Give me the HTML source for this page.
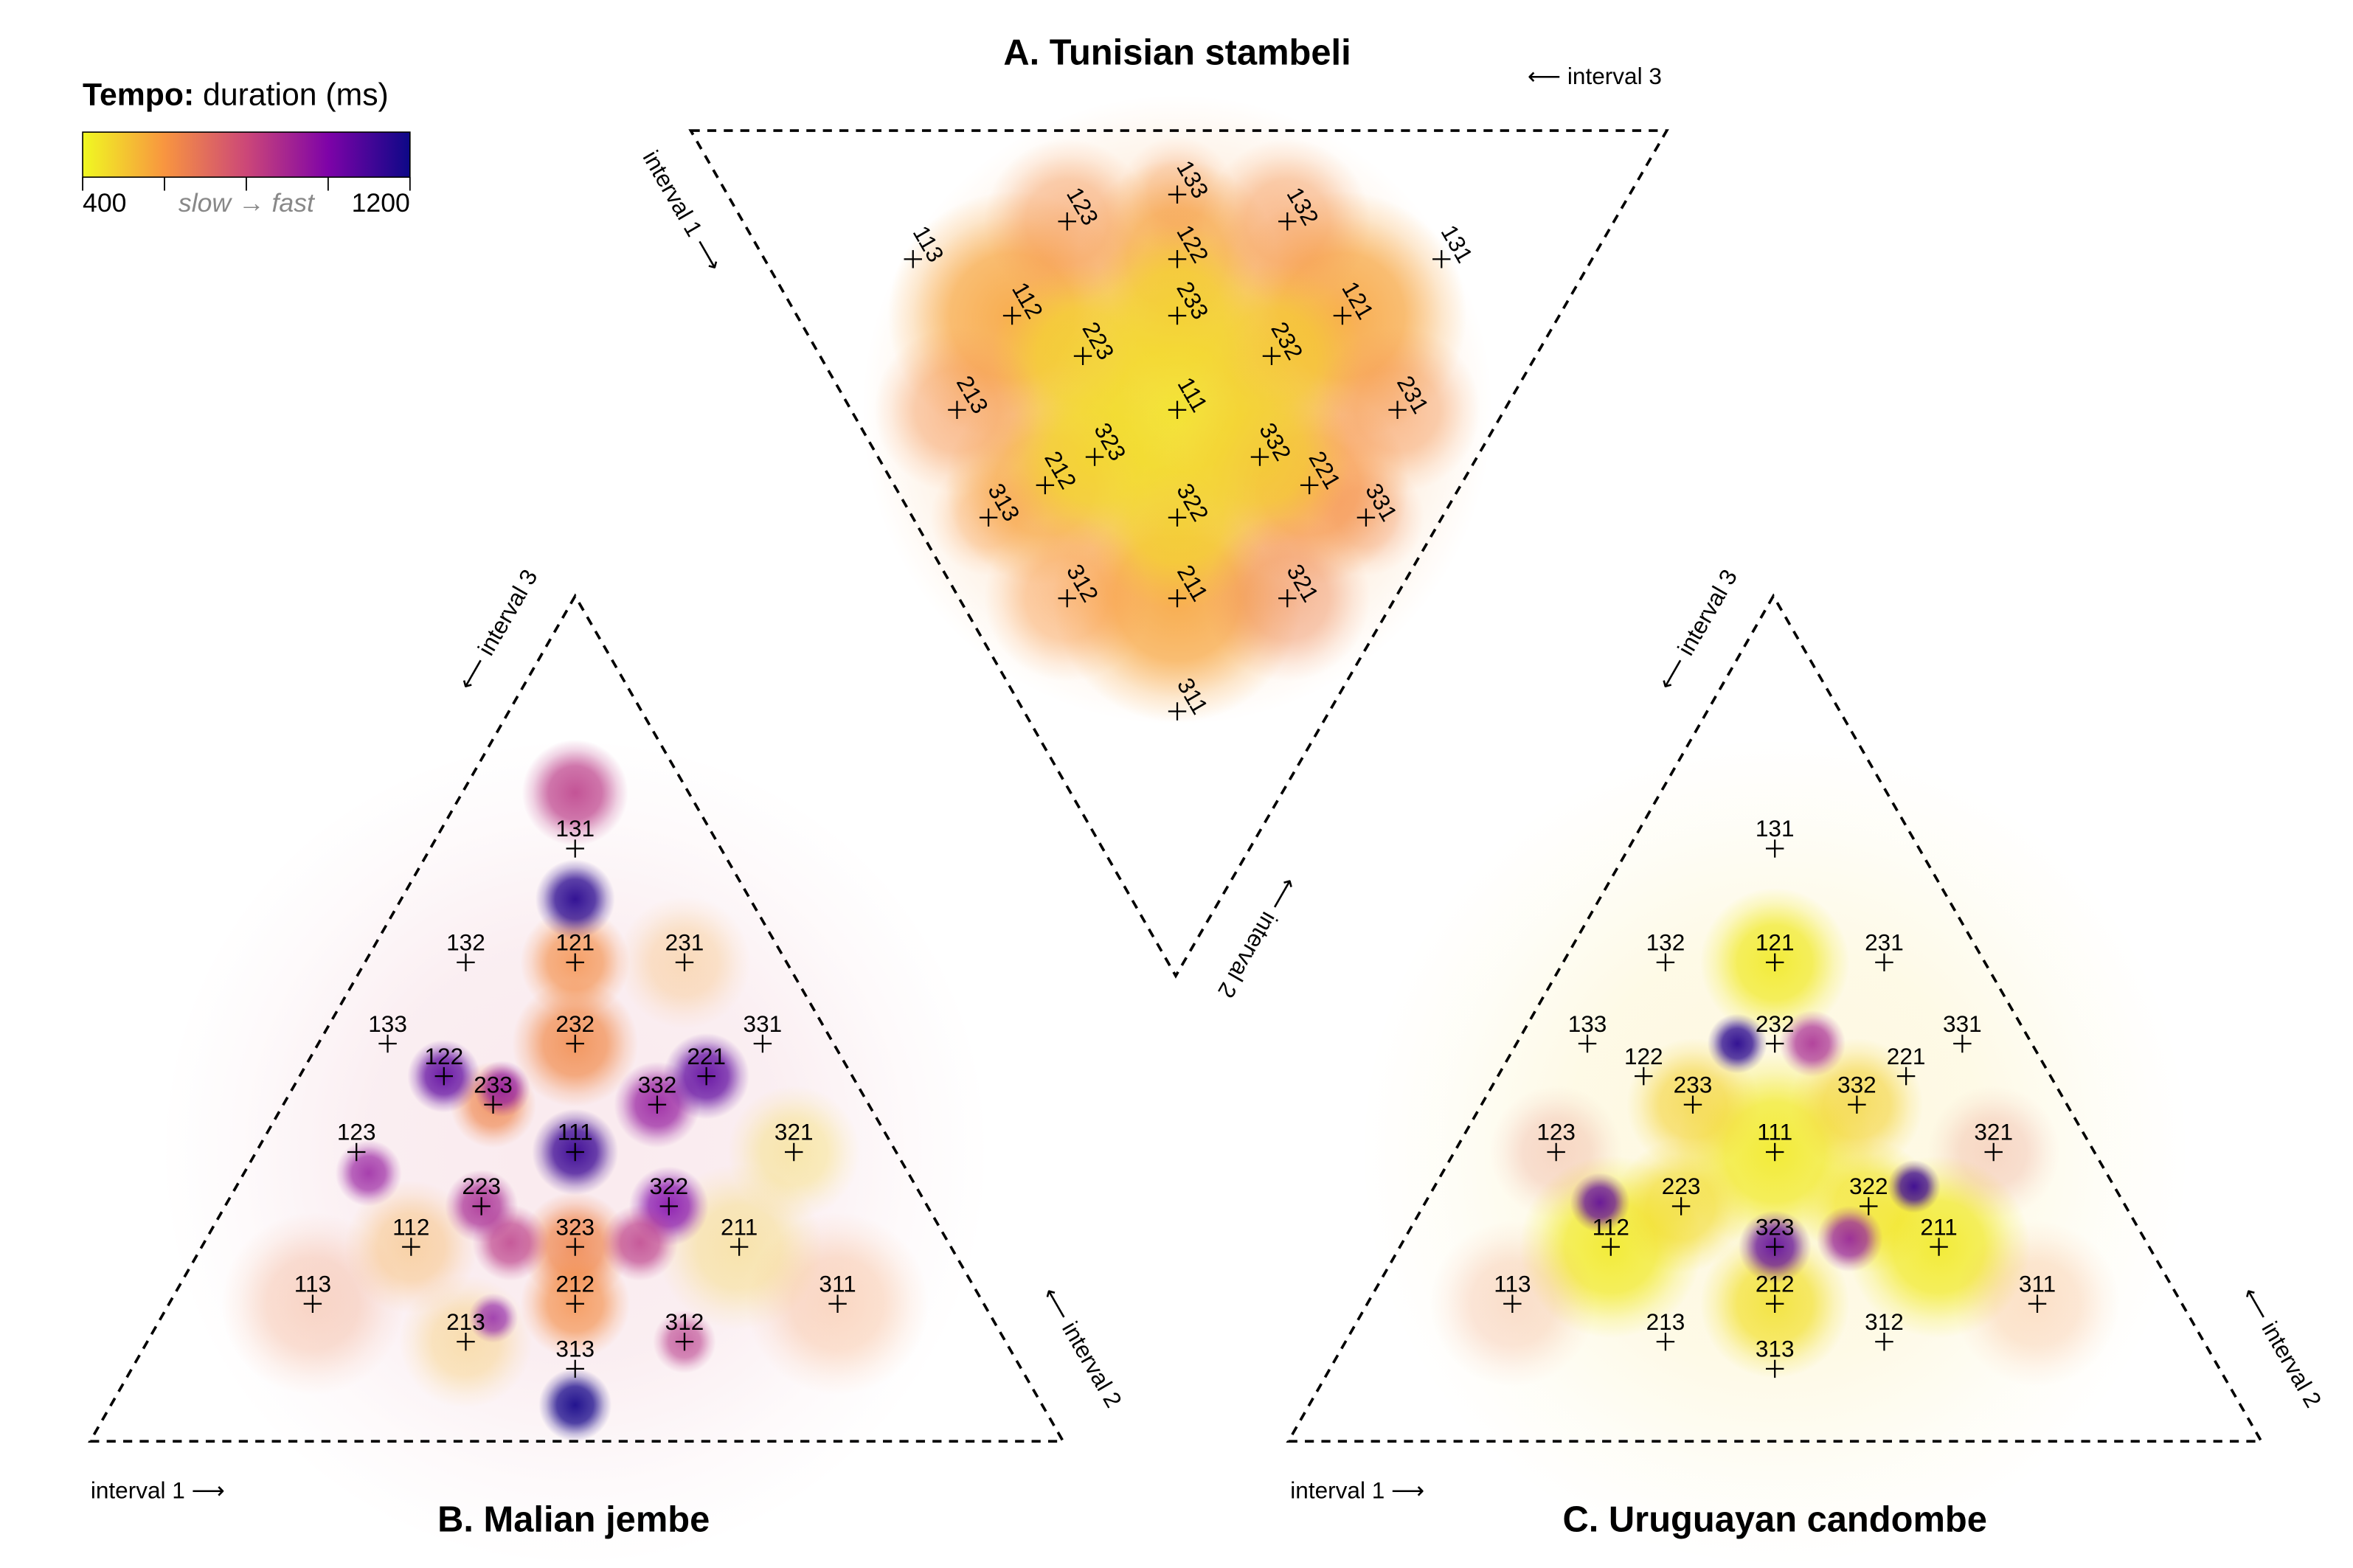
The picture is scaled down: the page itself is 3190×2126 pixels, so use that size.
<!DOCTYPE html>
<html><head><meta charset="utf-8">
<style>
html,body{margin:0;padding:0;background:#fff;overflow:hidden;width:3190px;height:2126px;}
svg{display:block;font-family:"Liberation Sans",Arial,sans-serif;}
</style></head>
<body>
<svg id="chart" xmlns="http://www.w3.org/2000/svg" width="3190" height="2126" viewBox="0 0 1567 1044.4">
<defs>
<linearGradient id="legendGrad" x1="0" x2="1" y1="0" y2="0">
<stop offset="0" stop-color="#f0f921"/><stop offset="0.25" stop-color="#f89540"/><stop offset="0.5" stop-color="#cc4778"/><stop offset="0.75" stop-color="#7e03a8"/><stop offset="1" stop-color="#0d0887"/>
</linearGradient>
</defs>
<rect width="1567" height="1044.4" fill="#fff"/>
<g id="layers"></g>
<g>
<text x="55" y="70" font-size="21"><tspan font-weight="bold">Tempo:</tspan> duration (ms)</text>
<rect x="55" y="88" width="218" height="30" fill="url(#legendGrad)" stroke="#000" stroke-width="0.8"/>
<g stroke="#000" stroke-width="0.9">
<line x1="55" x2="55" y1="118" y2="127"/><line x1="109.5" x2="109.5" y1="118" y2="127"/><line x1="164" x2="164" y1="118" y2="127"/><line x1="218.5" x2="218.5" y1="118" y2="127"/><line x1="273" x2="273" y1="118" y2="127"/>
</g>
<text x="55" y="141" font-size="17.5">400</text>
<text x="164" y="141" font-size="17.5" font-style="italic" fill="#888" text-anchor="middle">slow → fast</text>
<text x="273" y="141" font-size="17.5" text-anchor="end">1200</text>
</g>
<text x="784" y="43" font-size="24" font-weight="bold" text-anchor="middle">A. Tunisian stambeli</text>
<text x="382" y="1020" font-size="24" font-weight="bold" text-anchor="middle">B. Malian jembe</text>
<text x="1182" y="1020" font-size="24" font-weight="bold" text-anchor="middle">C. Uruguayan candombe</text>
<g font-size="15.5">
<text x="1062" y="56" text-anchor="middle">⟵ interval 3</text>
<text x="450" y="143" text-anchor="middle" transform="rotate(60 450 143)">interval 1 ⟶</text>
<text x="833" y="622" text-anchor="middle" transform="rotate(120 833 622)">⟵ interval 2</text>
<text x="105" y="998" text-anchor="middle">interval 1 ⟶</text>
<text x="336" y="422" text-anchor="middle" transform="rotate(-60 336 422)">⟵ interval 3</text>
<text x="716" y="900" text-anchor="middle" transform="rotate(60 716 900)">⟵ interval 2</text>
<text x="904" y="998" text-anchor="middle">interval 1 ⟶</text>
<text x="1135" y="422" text-anchor="middle" transform="rotate(-60 1135 422)">⟵ interval 3</text>
<text x="1515" y="900" text-anchor="middle" transform="rotate(60 1515 900)">⟵ interval 2</text>
</g>
</svg>
<script>
// ---- data ----
const categoryLabels = ['111','112','121','211','122','212','221','113','131','311','123','132','213','231','312','321','133','313','331','223','232','322','233','323','332'];
// Panel A (Tunisian stambeli) density clusters: interval ratios [i1,i2,i3], median duration (ms), spread, density
const aRatios = [[1,1,1],[2,2,3],[2,3,2],[3,2,2],[2,3,3],[3,2,3],[3,3,2],[1,1,2],[1,2,1],[2,1,1],[1,2,2],[2,1,2],[2,2,1],[1,2,3],[1,3,2],[2,1,3],[2,3,1],[3,1,2],[3,2,1],[1,1,1],[3,3,1],[1,3,3],[3,1,3]];
const aTempo  = [440,470,490,470,470,460,480,570,570,570,560,560,600,620,620,620,620,600,650,590,640,620,600];
const aSpread = [0.075,0.055,0.055,0.055,0.055,0.055,0.055,0.075,0.075,0.075,0.06,0.06,0.06,0.05,0.05,0.05,0.05,0.05,0.05,0.19,0.035,0.035,0.035];
const aDensity= [0.9,0.8,0.8,0.8,0.8,0.8,0.8,0.85,0.85,0.85,0.75,0.75,0.75,0.5,0.5,0.5,0.5,0.5,0.5,0.45,0.35,0.35,0.35];
// Panel B (Malian jembe)
const bRatios = [[1,1,1],[1,3.7,1],[1,2.5,1],[1,2,1],[2,3,2],[3,2,3],[2,1,2],[4,1,4],[1,2,2],[2,3,3],[1.8,2.8,2.6],[3,3,2],[2,2,1],[2,2,3],[3,2,2],[1,1.7,2.7],[2.3,1.8,3],[3,1.8,2.3],[3,1,2],[2.2,1.2,3],[2,1,1],[3,2,1],[3,1,1],[1,1,3],[1,1,2],[2,1,3],[1,1,1],[2,3,1]];
const bTempo  = [1120,850,1150,620,630,640,620,1180,1060,640,980,950,1060,900,1000,950,850,850,860,1000,480,470,620,650,560,520,780,560];
const bSpread = [0.026,0.032,0.024,0.033,0.038,0.033,0.033,0.022,0.022,0.026,0.017,0.026,0.026,0.022,0.024,0.02,0.023,0.023,0.019,0.015,0.05,0.04,0.055,0.055,0.04,0.04,0.25,0.04];
const bDensity= [0.95,0.85,0.95,0.8,0.85,0.85,0.8,0.95,0.9,0.8,0.8,0.85,0.9,0.85,0.85,0.8,0.8,0.8,0.7,0.7,0.35,0.35,0.3,0.3,0.4,0.35,0.12,0.3];
// Panel C (Uruguayan candombe)
const cRatios = [[1,1,1],[1,2,1],[1.8,3,2.2],[2.2,3,1.8],[1,1,2],[1,1.3,2.2],[3,2,3],[3,1.8,2.2],[3,2,2],[3,2,1.6],[2,1,1],[2,1,2],[2,2,3],[3,3,2],[2,3,3],[1,1,1],[1,1,3],[3,1,1],[1,2,3],[3,2,1]];
const cTempo  = [430,430,1150,900,430,1060,1060,960,440,1120,430,450,460,480,480,480,650,620,700,700];
const cSpread = [0.06,0.045,0.018,0.02,0.055,0.018,0.022,0.02,0.04,0.016,0.055,0.045,0.04,0.04,0.04,0.25,0.05,0.05,0.04,0.04];
const cDensity= [0.9,0.9,0.95,0.85,0.9,0.9,0.9,0.85,0.8,0.95,0.9,0.85,0.75,0.7,0.7,0.15,0.25,0.25,0.25,0.25];

// ---- helpers ----
const NS='http://www.w3.org/2000/svg';
const layers=document.getElementById('layers');
const defs=document.querySelector('defs');
const stops=[[0,[13,8,135]],[0.25,[126,3,168]],[0.5,[204,71,120]],[0.75,[248,149,64]],[1,[240,249,33]]];
function tempoColor(v){
  let t=1-(v-400)/800; t=Math.max(0,Math.min(1,t));
  for(let i=0;i<stops.length-1;i++){
    const [t0,c0]=stops[i],[t1,c1]=stops[i+1];
    if(t<=t1){const f=(t-t0)/(t1-t0);return 'rgb('+c0.map((c,k)=>Math.round(c+(c1[k]-c)*f)).join(',')+')';}
  }
  return 'rgb(240,249,33)';
}
function mk(tag,attrs,parent){const e=document.createElementNS(NS,tag);for(const k in attrs)e.setAttribute(k,attrs[k]);(parent||layers).appendChild(e);return e;}
function makeTernary(V){
  return function(r){const s=r[0]+r[1]+r[2];const f=[r[0]/s,r[1]/s,r[2]/s];
    return [f[0]*V[0][0]+f[1]*V[1][0]+f[2]*V[2][0], f[0]*V[0][1]+f[1]*V[1][1]+f[2]*V[2][1]];};
}
const SCALE=762;
let gid=0;
function drawPanel(key,V,ratios,tempo,spread,density,tri,rotLabels){
  const pos=makeTernary(V);
  const g=mk('g',{});
  
  
  const cl=mk('g',{},g);
  
  
  const order=ratios.map((r,i)=>i).sort((a,b)=>spread[b]-spread[a]);
  order.forEach(i=>{
    const p=pos(ratios[i]);const r=spread[i]*SCALE*1.45;const col=tempoColor(tempo[i]);
    const id='cg'+(gid++);
    const rg=mk('radialGradient',{id:id},defs);
    mk('stop',{offset:'0','stop-color':col,'stop-opacity':density[i]},rg);
    mk('stop',{offset:'0.5','stop-color':col,'stop-opacity':density[i]*0.8},rg);
    mk('stop',{offset:'0.8','stop-color':col,'stop-opacity':density[i]*0.25},rg);
    mk('stop',{offset:'1','stop-color':col,'stop-opacity':0},rg);
    const e=mk('circle',{cx:p[0].toFixed(1),cy:p[1].toFixed(1),r:r.toFixed(1),fill:'url(#'+id+')'},cl);
    
    
  });
  const t=mk('polygon',{points:tri.map(p=>p.join(',')).join(' '),fill:'none',stroke:'#000','stroke-width':1.8,'stroke-dasharray':'6,5'},g);
  
  
  const lg=mk('g',{},g);
  
  
  categoryLabels.forEach(c=>{
    const r=c.split('').map(Number);const p=pos(r);
    const m=mk('path',{d:'M'+(p[0]-6)+' '+p[1]+'h12M'+p[0]+' '+(p[1]-6)+'v12',stroke:'#000','stroke-width':1.1},lg);
    
    
    let tx;
    if(rotLabels){const x=p[0]+10,y=p[1]-10;tx=mk('text',{x:x,y:y+5,'font-size':15.5,'text-anchor':'middle',transform:'rotate(60 '+x+' '+y+')'},lg);}
    else{tx=mk('text',{x:p[0],y:p[1]-8,'font-size':15.5,'text-anchor':'middle'},lg);}
    tx.textContent=c;
    
    
  });
}
drawPanel('a',[[784,775],[1224,22],[344,22]],aRatios,aTempo,aSpread,aDensity,[[460,87],[1110,87],[783,650]],true);
drawPanel('b',[[820,1020],[383,262],[-54,1020]],bRatios,bTempo,bSpread,bDensity,[[60,960],[708,960],[383,397]],false);
drawPanel('c',[[1619,1020],[1182,262],[745,1020]],cRatios,cTempo,cSpread,cDensity,[[858,960],[1506,960],[1181,397]],false);
</script>
</body></html>
